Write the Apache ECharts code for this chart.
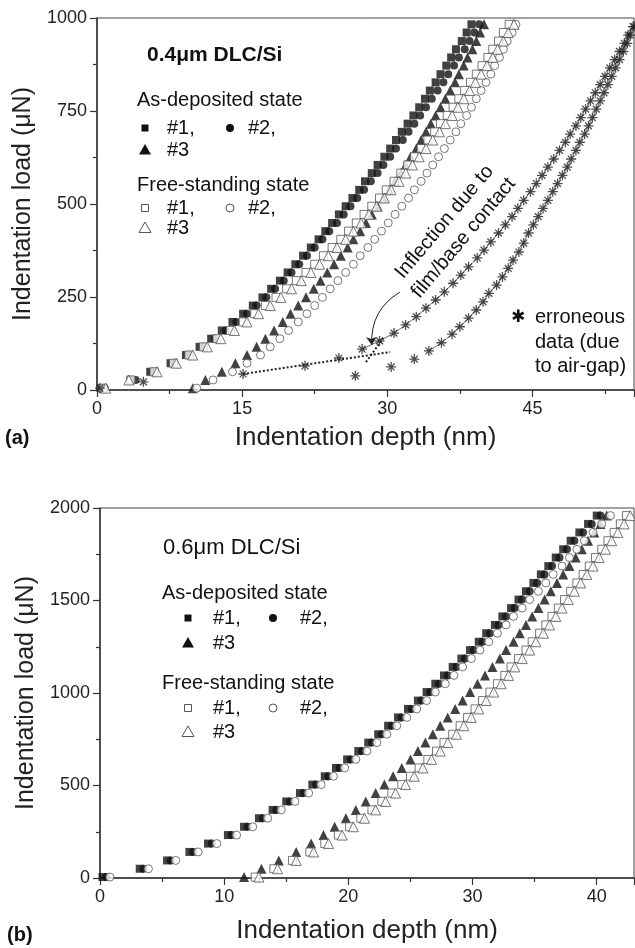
<!DOCTYPE html>
<html><head><meta charset="utf-8">
<script src="https://cdn.jsdelivr.net/npm/echarts@6/dist/echarts.min.js"></script>
<style>html,body{margin:0;padding:0;background:#fff}#c{width:635px;height:948px}</style>
</head><body><div id="c"></div>
<script>
// ---------- Panel (a): 0.4 um DLC/Si ----------
const loadA = [5, 27, 49, 72, 94, 116, 138, 160, 183, 205, 227, 249, 272, 294, 316, 338, 361, 383, 405, 427, 449, 472, 494, 516, 538, 561, 583, 605, 627, 649, 672, 694, 716, 738, 760, 783, 805, 827, 849, 872, 894, 916, 938, 961, 983];
const aAsDep1 = [0.5, 3.5, 5.5, 7.6, 9.2, 10.6, 11.8, 12.9, 14.0, 15.1, 16.1, 17.1, 18.0, 18.9, 19.7, 20.5, 21.3, 22.1, 22.9, 23.6, 24.3, 25.0, 25.7, 26.4, 27.1, 27.7, 28.4, 29.0, 29.7, 30.3, 30.9, 31.5, 32.1, 32.7, 33.3, 33.9, 34.4, 35.0, 35.5, 36.1, 36.6, 37.1, 37.7, 38.2, 38.7];
const aAsDep2 = [0.8, 4.0, 6.0, 8.0, 9.6, 11.0, 12.2, 13.3, 14.4, 15.5, 16.5, 17.5, 18.4, 19.3, 20.1, 20.9, 21.7, 22.5, 23.3, 24.0, 24.8, 25.5, 26.2, 26.9, 27.6, 28.3, 29.0, 29.6, 30.3, 30.9, 31.6, 32.2, 32.8, 33.4, 34.0, 34.6, 35.2, 35.8, 36.3, 36.9, 37.4, 38.0, 38.5, 39.0, 39.5];
const aAsDep3 = [9.9, 11.2, 12.9, 14.3, 15.5, 16.5, 17.4, 18.3, 19.2, 20.0, 20.8, 21.6, 22.4, 23.1, 23.8, 24.5, 25.2, 25.9, 26.5, 27.2, 27.8, 28.4, 29.0, 29.6, 30.2, 30.8, 31.4, 31.9, 32.4, 33.0, 33.5, 34.0, 34.5, 35.0, 35.5, 36.0, 36.5, 37.0, 37.4, 37.9, 38.3, 38.8, 39.2, 39.6, 40.0];
const aFree1 = [0.6, 3.5, 5.9, 7.9, 9.5, 11.0, 12.4, 13.8, 15.1, 16.3, 17.4, 18.5, 19.6, 20.6, 21.6, 22.5, 23.4, 24.3, 25.2, 26.0, 26.8, 27.6, 28.4, 29.2, 29.9, 30.7, 31.4, 32.1, 32.8, 33.5, 34.2, 34.9, 35.5, 36.2, 36.8, 37.4, 38.0, 38.6, 39.2, 39.8, 40.4, 40.9, 41.5, 42.0, 42.6];
const aFree2 = [10.3, 12.0, 14.0, 15.5, 16.9, 17.9, 18.9, 19.8, 20.8, 21.7, 22.5, 23.3, 24.1, 24.9, 25.7, 26.5, 27.2, 28.0, 28.7, 29.4, 30.1, 30.8, 31.5, 32.2, 32.8, 33.5, 34.1, 34.7, 35.3, 35.9, 36.5, 37.1, 37.6, 38.2, 38.7, 39.2, 39.7, 40.2, 40.7, 41.1, 41.6, 42.0, 42.4, 42.9, 43.3];
const aFree3 = [0.9, 3.3, 6.2, 8.2, 9.9, 11.4, 12.8, 14.2, 15.5, 16.7, 17.9, 19.0, 20.1, 21.1, 22.1, 23.0, 23.9, 24.8, 25.7, 26.5, 27.3, 28.1, 28.9, 29.7, 30.4, 31.2, 31.9, 32.6, 33.3, 34.0, 34.7, 35.4, 36.0, 36.7, 37.3, 37.9, 38.5, 39.1, 39.7, 40.3, 40.9, 41.4, 42.0, 42.5, 43.1];
// erroneous data (air-gap)
const errLoad1 = [5, 22, 43, 65, 86, 110, 132, 153, 175, 197, 220, 242, 264, 287, 309, 331, 355, 376, 398, 422, 444, 466, 488, 510, 533, 555, 577, 599, 621, 644, 666, 688, 710, 732, 755, 777, 799, 821, 843, 866, 888, 910, 932, 954, 977];
const errDep1 = [0.3, 4.8, 15.1, 21.5, 25.0, 27.4, 29.2, 30.7, 31.9, 33.0, 34.0, 35.0, 35.9, 36.8, 37.6, 38.4, 39.3, 40.0, 40.7, 41.5, 42.2, 42.9, 43.5, 44.1, 44.8, 45.4, 46.0, 46.6, 47.2, 47.8, 48.4, 48.9, 49.5, 50.0, 50.5, 51.0, 51.5, 52.0, 52.5, 53.0, 53.5, 54.0, 54.5, 54.9, 55.4];
const errLoad2 = [38, 62, 83, 105, 127, 150, 170, 193, 215, 237, 260, 282, 304, 327, 349, 371, 395, 422, 444, 466, 488, 510, 533, 555, 577, 599, 621, 644, 666, 688, 710, 732, 755, 777, 799, 821, 843, 866, 888, 910, 932, 954, 977];
const errDep2 = [26.7, 30.4, 32.8, 34.3, 35.6, 36.7, 37.5, 38.4, 39.2, 39.9, 40.5, 41.3, 41.9, 42.5, 43.0, 43.6, 44.1, 44.6, 45.1, 45.6, 46.1, 46.6, 47.1, 47.6, 48.1, 48.6, 49.0, 49.5, 49.9, 50.4, 50.8, 51.2, 51.6, 52.0, 52.4, 52.8, 53.2, 53.6, 54.0, 54.4, 54.8, 55.1, 55.5];
// guide lines (depth, load)
const fitLow = [[15.1, 43], [30.3, 102]];
const fitHigh = [[27.8, 75], [29.6, 140]];
const arrowPts = [[31.3, 263], [28.4, 121]];
const ticksAX = {min: 0, max: 55.5, interval: 15};
const ticksAY = {min: 0, max: 1000, interval: 250};

// ---------- Panel (b): 0.6 um DLC/Si ----------
const loadB = [5, 50, 95, 141, 186, 232, 277, 323, 368, 414, 459, 505, 550, 595, 641, 686, 732, 777, 823, 868, 914, 959, 1005, 1050, 1095, 1141, 1186, 1232, 1277, 1323, 1368, 1414, 1459, 1505, 1550, 1595, 1641, 1686, 1732, 1777, 1823, 1868, 1914, 1959];
const bAsDep1 = [0.2, 3.2, 5.4, 7.2, 8.7, 10.3, 11.6, 12.8, 13.9, 15.0, 16.1, 17.1, 18.1, 19.0, 19.9, 20.8, 21.6, 22.4, 23.2, 24.0, 24.8, 25.6, 26.3, 27.0, 27.7, 28.4, 29.1, 29.8, 30.5, 31.1, 31.8, 32.4, 33.1, 33.7, 34.3, 34.9, 35.5, 36.1, 36.7, 37.3, 37.9, 38.6, 39.3, 40.0];
const bAsDep2 = [0.5, 3.5, 5.7, 7.5, 9.0, 10.6, 11.9, 13.1, 14.2, 15.3, 16.4, 17.4, 18.4, 19.3, 20.2, 21.1, 21.9, 22.7, 23.5, 24.3, 25.1, 25.9, 26.6, 27.3, 28.0, 28.7, 29.4, 30.1, 30.8, 31.4, 32.1, 32.7, 33.4, 34.0, 34.6, 35.2, 35.8, 36.4, 37.0, 37.6, 38.2, 38.9, 39.6, 40.3];
const bAsDep3 = [11.6, 13.0, 14.4, 15.8, 17.0, 18.0, 18.9, 19.8, 20.6, 21.4, 22.2, 22.9, 23.6, 24.3, 25.0, 25.6, 26.2, 26.8, 27.4, 28.0, 28.6, 29.2, 29.8, 30.4, 31.0, 31.6, 32.2, 32.7, 33.3, 33.8, 34.3, 34.8, 35.3, 35.8, 36.3, 36.8, 37.3, 37.8, 38.3, 38.8, 39.3, 39.8, 40.3, 40.8];
const bFree1 = [12.5, 14.0, 15.5, 16.9, 18.1, 19.2, 20.1, 21.0, 21.9, 22.7, 23.5, 24.3, 25.0, 25.7, 26.4, 27.1, 27.7, 28.4, 29.0, 29.6, 30.2, 30.8, 31.4, 32.0, 32.6, 33.1, 33.7, 34.3, 34.8, 35.4, 35.9, 36.4, 36.9, 37.4, 37.9, 38.4, 38.9, 39.4, 39.9, 40.4, 40.9, 41.4, 41.9, 42.4];
const bFree2 = [0.8, 3.9, 6.1, 7.9, 9.4, 11.0, 12.3, 13.5, 14.6, 15.7, 16.8, 17.8, 18.8, 19.7, 20.6, 21.5, 22.3, 23.1, 23.9, 24.7, 25.5, 26.3, 27.0, 27.8, 28.5, 29.2, 29.9, 30.6, 31.3, 32.0, 32.7, 33.3, 34.0, 34.6, 35.3, 35.9, 36.5, 37.2, 37.8, 38.4, 39.0, 39.7, 40.4, 41.1];
const bFree3 = [12.8, 14.3, 15.8, 17.2, 18.4, 19.5, 20.4, 21.3, 22.2, 23.0, 23.8, 24.6, 25.3, 26.0, 26.7, 27.4, 28.0, 28.7, 29.3, 29.9, 30.5, 31.1, 31.7, 32.3, 32.9, 33.4, 34.0, 34.6, 35.1, 35.7, 36.2, 36.7, 37.2, 37.7, 38.2, 38.7, 39.2, 39.7, 40.2, 40.7, 41.2, 41.7, 42.2, 42.7];
const ticksBX = {min: 0, max: 43, interval: 10};
const ticksBY = {min: 0, max: 2000, interval: 500};

const FONT = "'Liberation Sans', Arial, sans-serif";
const pairs = (d, l) => d.map((v, i) => [v, l[i]]);
const STAR = 'path://M5,0L5,10M0,5L10,5M1.6,1.6L8.4,8.4M1.6,8.4L8.4,1.6';

function filled(name, sym, size, dep, load, ax) {
  return {name, type: 'scatter', xAxisIndex: ax, yAxisIndex: ax, symbol: sym, symbolSize: size,
    data: pairs(dep, load), itemStyle: {color: '#111'}, z: 3};
}
function open(name, sym, size, dep, load, ax) {
  return {name, type: 'scatter', xAxisIndex: ax, yAxisIndex: ax, symbol: sym, symbolSize: size,
    data: pairs(dep, load), itemStyle: {color: '#fff', borderColor: '#555', borderWidth: 1}, z: 4};
}
function xAx(t, gi, gap) {
  return {type: 'value', gridIndex: gi, min: t.min, max: t.max, interval: t.interval,
    name: 'Indentation depth (nm)', nameLocation: 'middle', nameGap: gap,
    nameTextStyle: {fontFamily: FONT, fontSize: 26, color: '#222'},
    axisLine: {lineStyle: {color: '#333', width: 1.5}},
    axisTick: {inside: false, length: 7, lineStyle: {color: '#333', width: 1.2}},
    minorTick: {show: true, splitNumber: 2, length: 4, lineStyle: {color: '#333', width: 1.2}},
    splitLine: {show: false},
    axisLabel: {fontFamily: FONT, fontSize: 18, color: '#222', margin: 10, showMaxLabel: false, formatter: v => String(v)}};
}
function yAx(t, gi, gap) {
  return {type: 'value', gridIndex: gi, min: t.min, max: t.max, interval: t.interval,
    name: 'Indentation load (\u03bcN)', nameLocation: 'middle', nameGap: gap, nameRotate: 90,
    nameTextStyle: {fontFamily: FONT, fontSize: 25, color: '#222'},
    axisLine: {lineStyle: {color: '#333', width: 1.5}},
    axisTick: {inside: false, length: 7, lineStyle: {color: '#333', width: 1.2}},
    minorTick: {show: true, splitNumber: 2, length: 4, lineStyle: {color: '#333', width: 1.2}},
    splitLine: {show: false},
    axisLabel: {fontFamily: FONT, fontSize: 18, color: '#222', margin: 10, formatter: v => String(v)}};
}
function txt(x, y, s, size, extra) {
  return Object.assign({type: 'text', x, y, style: Object.assign({text: s, font: size + 'px ' + FONT, fill: '#111', textVerticalAlign: 'middle'}, extra || {})});
}
function sq(x, y, s, fill) { return {type: 'rect', shape: {x: x - s / 2, y: y - s / 2, width: s, height: s}, style: fill ? {fill: '#111'} : {fill: '#fff', stroke: '#555', lineWidth: 1}}; }
function ci(x, y, r, fill) { return {type: 'circle', shape: {cx: x, cy: y, r}, style: fill ? {fill: '#111'} : {fill: '#fff', stroke: '#555', lineWidth: 1}}; }
function tri(x, y, s, fill) { return {type: 'polygon', shape: {points: [[x, y - s * 0.6], [x - s * 0.6, y + s * 0.45], [x + s * 0.6, y + s * 0.45]]}, style: fill ? {fill: '#111'} : {fill: '#fff', stroke: '#555', lineWidth: 1}}; }

function legendBlock(x0, yTitle, title, bold, rows, mx, t1x, m2x, t2x, titleSize) {
  const g = [];
  g.push(txt(x0 + (bold ? 10 : 1), yTitle, title, titleSize, bold ? {font: 'bold ' + titleSize + 'px ' + FONT} : {}));
  g.push(txt(x0, rows[0], 'As-deposited state', 20));
  g.push(sq(mx, rows[1], 7, true)); g.push(txt(t1x, rows[1], '#1,', 20));
  g.push(ci(m2x, rows[1], 4, true)); g.push(txt(t2x, rows[1], '#2,', 20));
  g.push(tri(mx, rows[2], 10, true)); g.push(txt(t1x, rows[2], '#3', 20));
  g.push(txt(x0, rows[3], 'Free-standing state', 20));
  g.push(sq(mx, rows[4], 7, false)); g.push(txt(t1x, rows[4], '#1,', 20));
  g.push(ci(m2x, rows[4], 4, false)); g.push(txt(t2x, rows[4], '#2,', 20));
  g.push(tri(mx, rows[5], 10, false)); g.push(txt(t1x, rows[5], '#3', 20));
  return g;
}

const graphics = [].concat(
  legendBlock(137, 55, '0.4\u03bcm DLC/Si', true, [100, 128, 150, 185, 208, 228], 145, 167, 230, 248, 21),
  legendBlock(162, 548, '0.6\u03bcm DLC/Si', false, [593, 618, 643, 683, 708, 732], 188, 213, 273, 300, 22),
  [
    txt(5, 438, '(a)', 20, {font: 'bold 20px ' + FONT}),
    txt(7, 935, '(b)', 20, {font: 'bold 20px ' + FONT}),
    {type: 'text', x: 454, y: 230, rotation: 50 * Math.PI / 180,
      style: {text: 'Inflection due to\nfilm/base contact', font: '20px ' + FONT, fill: '#111', textAlign: 'center', textVerticalAlign: 'middle', lineHeight: 25}},
    txt(511, 318, '\u2731', 17, {font: '17px DejaVu Sans'}),
    txt(535, 342, 'erroneous\ndata (due\nto air-gap)', 20, {lineHeight: 24.5})
  ]
);

const option = {
  backgroundColor: '#fff',
  animation: false,
  grid: [
    {left: 97, top: 18, width: 537, height: 372, show: true, borderColor: '#444', borderWidth: 1},
    {left: 100, top: 508, width: 534, height: 370, show: true, borderColor: '#444', borderWidth: 1}
  ],
  xAxis: [xAx(ticksAX, 0, 35), xAx(ticksBX, 1, 40)],
  yAxis: [yAx(ticksAY, 0, 56), yAx(ticksBY, 1, 56)],
  series: [
    filled('As-deposited #1', 'rect', 8, aAsDep1, loadA, 0),
    filled('As-deposited #2', 'circle', 8, aAsDep2, loadA, 0),
    filled('As-deposited #3', 'triangle', 10, aAsDep3, loadA, 0),
    open('Free-standing #1', 'rect', 8, aFree1, loadA, 0),
    open('Free-standing #2', 'circle', 8, aFree2, loadA, 0),
    open('Free-standing #3', 'triangle', 10, aFree3, loadA, 0),
    {name: 'erroneous 1', type: 'line', xAxisIndex: 0, yAxisIndex: 0, data: pairs(errDep1, errLoad1).slice(5),
      showSymbol: false, symbol: 'none', lineStyle: {color: '#444', width: 0.8}, z: 2},
    {name: 'erroneous 2', type: 'line', xAxisIndex: 0, yAxisIndex: 0, data: pairs(errDep2, errLoad2).slice(3),
      showSymbol: false, symbol: 'none', lineStyle: {color: '#444', width: 0.8}, z: 2},
    {name: 'erroneous pts 1', type: 'scatter', xAxisIndex: 0, yAxisIndex: 0, data: pairs(errDep1, errLoad1), symbol: STAR, symbolSize: 10,
      itemStyle: {color: 'rgba(0,0,0,0)', borderColor: '#222', borderWidth: 1.3}, z: 5},
    {name: 'erroneous pts 2', type: 'scatter', xAxisIndex: 0, yAxisIndex: 0, data: pairs(errDep2, errLoad2), symbol: STAR, symbolSize: 10,
      itemStyle: {color: 'rgba(0,0,0,0)', borderColor: '#222', borderWidth: 1.3}, z: 5},
    {name: 'fit low', type: 'line', xAxisIndex: 0, yAxisIndex: 0, data: fitLow, symbol: 'none',
      lineStyle: {color: '#222', width: 2, type: [2, 2]}, z: 2},
    {name: 'fit high', type: 'line', xAxisIndex: 0, yAxisIndex: 0, data: fitHigh, symbol: 'none',
      lineStyle: {color: '#222', width: 2, type: [2, 2]}, z: 2},
    {name: 'arrow', type: 'lines', coordinateSystem: 'cartesian2d', xAxisIndex: 0, yAxisIndex: 0,
      data: [{coords: arrowPts}], symbol: ['none', 'arrow'], symbolSize: 8,
      lineStyle: {color: '#222', width: 1, curveness: -0.3, opacity: 1}, z: 6},

    filled('As-deposited #1 b', 'rect', 8, bAsDep1, loadB, 1),
    filled('As-deposited #2 b', 'circle', 8, bAsDep2, loadB, 1),
    filled('As-deposited #3 b', 'triangle', 10, bAsDep3, loadB, 1),
    open('Free-standing #1 b', 'rect', 8, bFree1, loadB, 1),
    open('Free-standing #2 b', 'circle', 8, bFree2, loadB, 1),
    open('Free-standing #3 b', 'triangle', 10, bFree3, loadB, 1)
  ],
  graphic: graphics
};
const chart = echarts.init(document.getElementById('c'), null, {renderer: 'canvas'});
chart.setOption(option);
</script>
</body></html>
